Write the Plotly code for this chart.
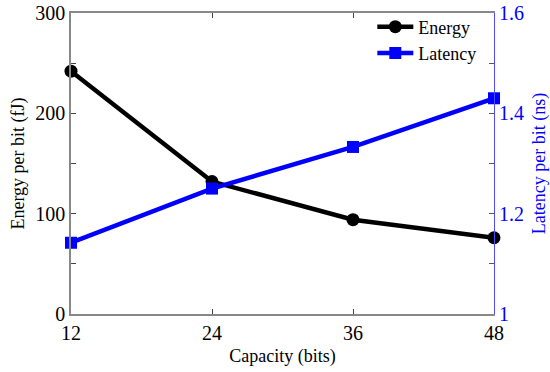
import plotly.graph_objects as go

capacity = [12, 24, 36, 48]
energy = [242, 132, 94, 76]
latency = [1.142, 1.25, 1.333, 1.43]
x_ticks = [12, 24, 36, 48]
left_ticks = [0, 50, 100, 150, 200, 250, 300]
left_text = ["0", "", "100", "", "200", "", "300"]
right_ticks = [1.0, 1.1, 1.2, 1.3, 1.4, 1.5, 1.6]
right_text = ["1", "", "1.2", "", "1.4", "", "1.6"]

FONT = "Liberation Serif"
fig = go.Figure()
fig.add_trace(go.Scatter(x=capacity, y=energy, name="Energy", mode="lines+markers",
                         line=dict(color="black", width=4.5),
                         marker=dict(symbol="circle", size=13, color="black"),
                         yaxis="y", cliponaxis=False))
fig.add_trace(go.Scatter(x=capacity, y=latency, name="Latency", mode="lines+markers",
                         line=dict(color="#0000ff", width=4.5),
                         marker=dict(symbol="square", size=12, color="#0000ff"),
                         yaxis="y2", cliponaxis=False))

fig.update_layout(
    width=550, height=372,
    margin=dict(l=71, r=56, t=13, b=58, autoexpand=False),
    paper_bgcolor="white", plot_bgcolor="white",
    font=dict(family=FONT, size=19, color="black"),
    showlegend=True,
    legend=dict(x=0.97, y=1.015, xanchor="right", yanchor="top",
                bgcolor="rgba(0,0,0,0)", font=dict(family=FONT, size=18),
                itemwidth=36, tracegroupgap=0),
    xaxis=dict(range=[12, 48], tickvals=x_ticks, ticks="inside", ticklen=5,
               tickcolor="#444", showline=True, linecolor="#888", linewidth=1.5,
               mirror="ticks", showgrid=False, zeroline=False, automargin=False,
               title=dict(text="Capacity (bits)", font=dict(size=18), standoff=7),
               tickfont=dict(size=20)),
    yaxis=dict(range=[0, 300], tickvals=left_ticks, ticktext=left_text,
               ticks="inside", ticklen=5, tickcolor="#444", showline=True,
               linecolor="#888", linewidth=1.5, showgrid=False, zeroline=False,
               automargin=False,
               title=dict(text="Energy per bit (fJ)", font=dict(size=18), standoff=6),
               tickfont=dict(size=20)),
    yaxis2=dict(range=[1.0, 1.6], tickvals=right_ticks, ticktext=right_text,
                overlaying="y", side="right", ticks="inside", ticklen=5,
                tickcolor="#555", showline=True, linecolor="#4d4dff", linewidth=1.2,
                showgrid=False, zeroline=False, automargin=False,
                title=dict(text="Latency per bit (ns)", font=dict(size=18, color="#0000ff"), standoff=15),
                tickfont=dict(size=20, color="#0000ff")),
)

fig.write_html("out.html", config={"displayModeBar": False},
               post_script="document.body.style.margin='0';")
